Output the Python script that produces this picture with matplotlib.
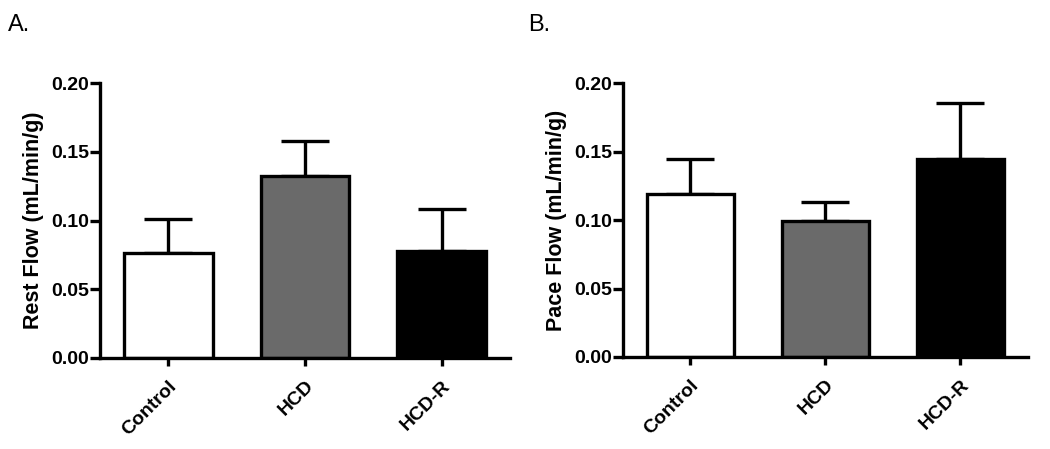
import matplotlib.pyplot as plt

plt.rcParams['font.family'] = ['Liberation Sans', 'DejaVu Sans']

groups = ['Control', 'HCD', 'HCD-R']
colors = ['white', '#6a6a6a', 'black']

rest_mean = [0.0767, 0.1324, 0.0778]
rest_sem = [0.0242, 0.0252, 0.0303]

pace_mean = [0.1188, 0.0993, 0.1446]
pace_sem = [0.0258, 0.0137, 0.0408]

fig = plt.figure(figsize=(10.5, 4.49), dpi=100)
ax_a = fig.add_axes([0.0952, 0.2027, 0.3905, 0.6124])
ax_b = fig.add_axes([0.5933, 0.2049, 0.3857, 0.6096])


def draw_panel(ax, means, sems, ylabel):
    x = range(len(groups))
    ax.bar(x, means, width=0.65, color=colors, edgecolor='black',
           linewidth=2.4, zorder=2)
    ax.errorbar(x, means, yerr=[[0] * len(sems), sems], fmt='none',
                ecolor='black', elinewidth=2.4, capsize=17, capthick=2.4,
                zorder=1)
    ax.set_xlim(-0.5, 2.5)
    ax.set_ylim(0, 0.2)
    ax.set_yticks([0.0, 0.05, 0.10, 0.15, 0.20])
    ax.set_yticklabels(['0.00', '0.05', '0.10', '0.15', '0.20'],
                       fontsize=14, fontweight='bold')
    ax.set_xticks(list(x))
    ax.set_xticklabels(groups, rotation=45, ha='right', rotation_mode='anchor',
                       fontsize=14, fontweight='bold')
    ax.set_ylabel(ylabel, fontsize=15.5, fontweight='bold', labelpad=5)
    for side in ['top', 'right']:
        ax.spines[side].set_visible(False)
    for side in ['left', 'bottom']:
        ax.spines[side].set_linewidth(2.4)
    ax.tick_params(axis='y', length=7, width=2.4, pad=1)
    ax.tick_params(axis='x', length=6, width=2.4, pad=8)


draw_panel(ax_a, rest_mean, rest_sem, 'Rest Flow (mL/min/g)')
draw_panel(ax_b, pace_mean, pace_sem, 'Pace Flow (mL/min/g)')

fig.text(0.008, 0.93, 'A.', fontsize=17)
fig.text(0.503, 0.93, 'B.', fontsize=17)

fig.savefig('out.png', dpi=100)
